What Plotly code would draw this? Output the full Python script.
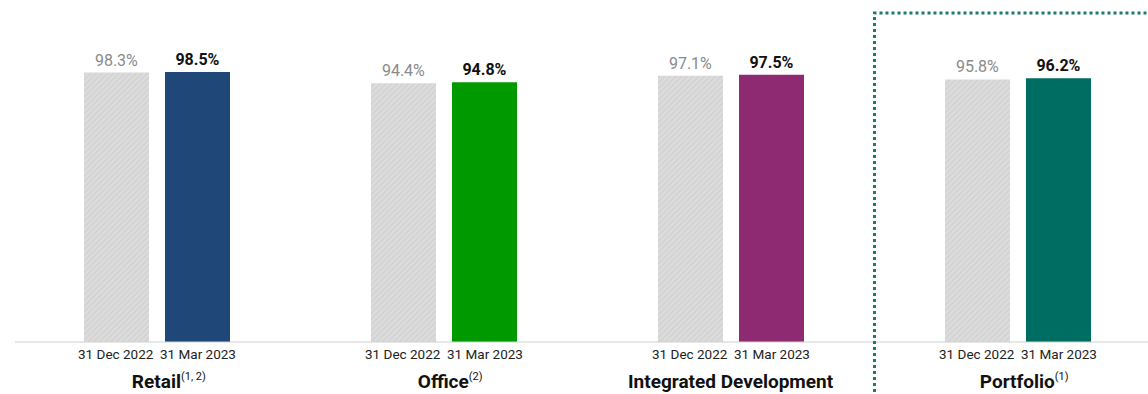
import plotly.graph_objects as go

# Occupancy by segment
segments = ["Retail", "Office", "Integrated Development", "Portfolio"]
segment_names = ["Retail", "Office", "Integrated Development", "Portfolio"]
segment_notes = ["(1, 2)", "(2)", "", "(1)"]
dec_2022 = [98.3, 94.4, 97.1, 95.8]
mar_2023 = [98.5, 94.8, 97.5, 96.2]
period_labels = ["31 Dec 2022", "31 Mar 2023"]
mar_colors = ["#1f4879", "#009a00", "#8d2a71", "#006d63"]

FONT = "Roboto, Arial, sans-serif"
PX_PER_UNIT = 2.741  # vertical pixels per percentage point
BASE_PX = 342        # baseline position from top

fig = go.Figure()
fig.add_trace(go.Bar(
    x=segments, y=dec_2022, name=period_labels[0],
    marker=dict(color="#dadada", line=dict(width=0),
                pattern=dict(shape="/", fgcolor="#c2c2c2", bgcolor="#dcdcdc",
                             size=4, solidity=0.3)),
    texttemplate="%{y:.1f}%", textposition="outside", cliponaxis=False,
    textfont=dict(family=FONT, size=16, color="#8a8a8a"),
))
fig.add_trace(go.Bar(
    x=segments, y=mar_2023, name=period_labels[1],
    marker=dict(color=mar_colors, line=dict(width=0)),
    texttemplate="<b>%{y:.1f}%</b>", textposition="outside", cliponaxis=False,
    textfont=dict(family=FONT, size=16, color="#111111"),
))

annotations = []
for seg, name, note in zip(segments, segment_names, segment_notes):
    for shift, per in zip((-41, 41), period_labels):
        annotations.append(dict(
            x=seg, y=(BASE_PX - 354) / PX_PER_UNIT, xref="x", yref="y",
            text=per, showarrow=False, xshift=shift, yanchor="middle",
            font=dict(family=FONT, size=13.5, color="#222222"),
        ))
    label = f"<b>{name}</b>"
    if note:
        sup = f"<sup><span style='font-size:11px'>{note}</span></sup>"
        # transparent copy on the left keeps the segment name itself centred
        label = f"<span style='color:rgba(255,255,255,0)'>{sup}</span>{label}{sup}"
    annotations.append(dict(
        x=seg, y=(BASE_PX - 381) / PX_PER_UNIT, xref="x", yref="y",
        text=label, showarrow=False, yanchor="middle",
        font=dict(family=FONT, size=19, color="#111111"),
    ))

shapes = [
    # baseline
    dict(type="line", xref="paper", yref="y", x0=15 / 1148, x1=1, y0=0, y1=0,
         line=dict(color="#d0d0d0", width=1)),
    # dotted frame around the portfolio total
    dict(type="path", xref="x", yref="y",
         path=f"M 2.5,{(BASE_PX - 392) / PX_PER_UNIT} L 2.5,{(BASE_PX - 13) / PX_PER_UNIT} "
              f"L 3.6,{(BASE_PX - 13) / PX_PER_UNIT}",
         line=dict(color="#1b7a70", width=3, dash="dot")),
]

fig.update_layout(
    width=1148, height=394,
    margin=dict(l=0, r=0, t=0, b=0),
    paper_bgcolor="white", plot_bgcolor="white",
    barmode="group", bargap=0.4355, bargroupgap=0.1975,
    showlegend=False,
    xaxis=dict(range=[-0.547, 3.453], showticklabels=False, showgrid=False,
               zeroline=False, showline=False, fixedrange=True),
    yaxis=dict(range=[(BASE_PX - 394) / PX_PER_UNIT, BASE_PX / PX_PER_UNIT],
               showticklabels=False, showgrid=False, zeroline=False,
               showline=False, fixedrange=True),
    annotations=annotations,
    shapes=shapes,
    font=dict(family=FONT),
)

fig.write_html("out.html", config={"displayModeBar": False})
